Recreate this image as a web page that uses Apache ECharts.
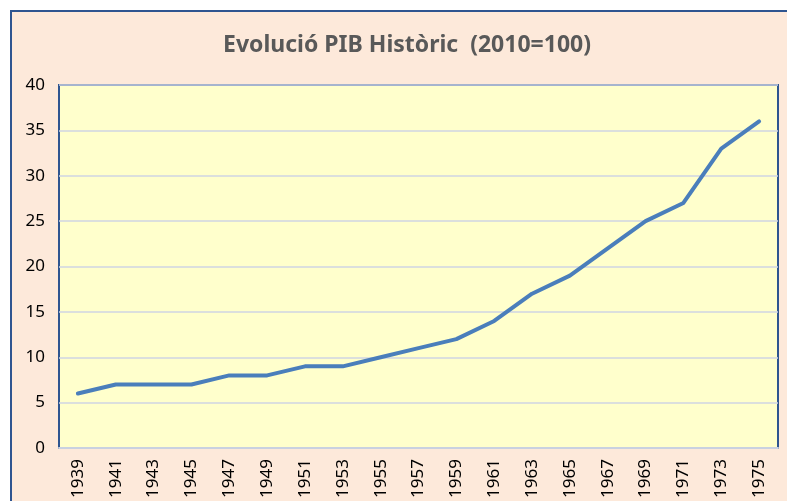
<!DOCTYPE html>
<html>
<head>
<meta charset="utf-8">
<script src="https://cdn.jsdelivr.net/npm/echarts@6/dist/echarts.min.js"></script>
<style>
  html, body { margin: 0; padding: 0; background: #ffffff; overflow: hidden; }
  #chart {
    position: absolute;
    left: 10px;
    top: 10px;
    width: 790px;
    height: 500px;
    border: 2px solid #2e5590;
    background: #fde9da;
  }
</style>
</head>
<body>
<div id="chart"></div>
<script>
// Anys (eix X)
const years = ['1939', '1941', '1943', '1945', '1947', '1949', '1951', '1953', '1955', '1957',
  '1959', '1961', '1963', '1965', '1967', '1969', '1971', '1973', '1975']
// PIB index (2010=100)
const pib = [6, 7, 7, 7, 8, 8, 9, 9, 10, 11, 12, 14, 17, 19, 22, 25, 27, 33, 36]

const chart = echarts.init(document.getElementById('chart'))

const option = {
  backgroundColor: '#fde9da',
  animation: false,
  title: {
    text: 'Evolució PIB Històric  (2010=100)',
    left: 'center',
    top: 17,
    textStyle: {
      fontFamily: 'Noto Sans',
      fontSize: 23,
      fontWeight: 'bold',
      color: '#595959'
    }
  },
  grid: {
    left: 47,
    top: 73,
    width: 719,
    height: 363,
    show: true,
    backgroundColor: '#ffffcc',
    borderColor: '#2e5590',
    borderWidth: 2
  },
  xAxis: {
    type: 'category',
    data: years,
    boundaryGap: true,
    axisLine: { lineStyle: { color: '#c9d1e0', width: 2 } },
    axisTick: { show: false },
    axisLabel: {
      rotate: 90,
      margin: 11,
      color: '#000000',
      fontFamily: 'Noto Sans',
      fontSize: 17
    },
    splitLine: { show: false }
  },
  yAxis: {
    type: 'value',
    min: 0,
    max: 40,
    interval: 5,
    axisLine: { show: false },
    axisTick: { show: false },
    axisLabel: {
      margin: 14,
      color: '#000000',
      fontFamily: 'Noto Sans',
      fontSize: 17
    },
    splitLine: { lineStyle: { color: '#cfd5e3', width: 1.5 } }
  },
  series: [
    {
      name: 'PIB',
      type: 'line',
      data: pib,
      showSymbol: false,
      symbol: 'none',
      lineStyle: { color: '#4a7ebb', width: 4, cap: 'round', join: 'round' }
    }
  ]
}

chart.setOption(option, true)
</script>
</body>
</html>
